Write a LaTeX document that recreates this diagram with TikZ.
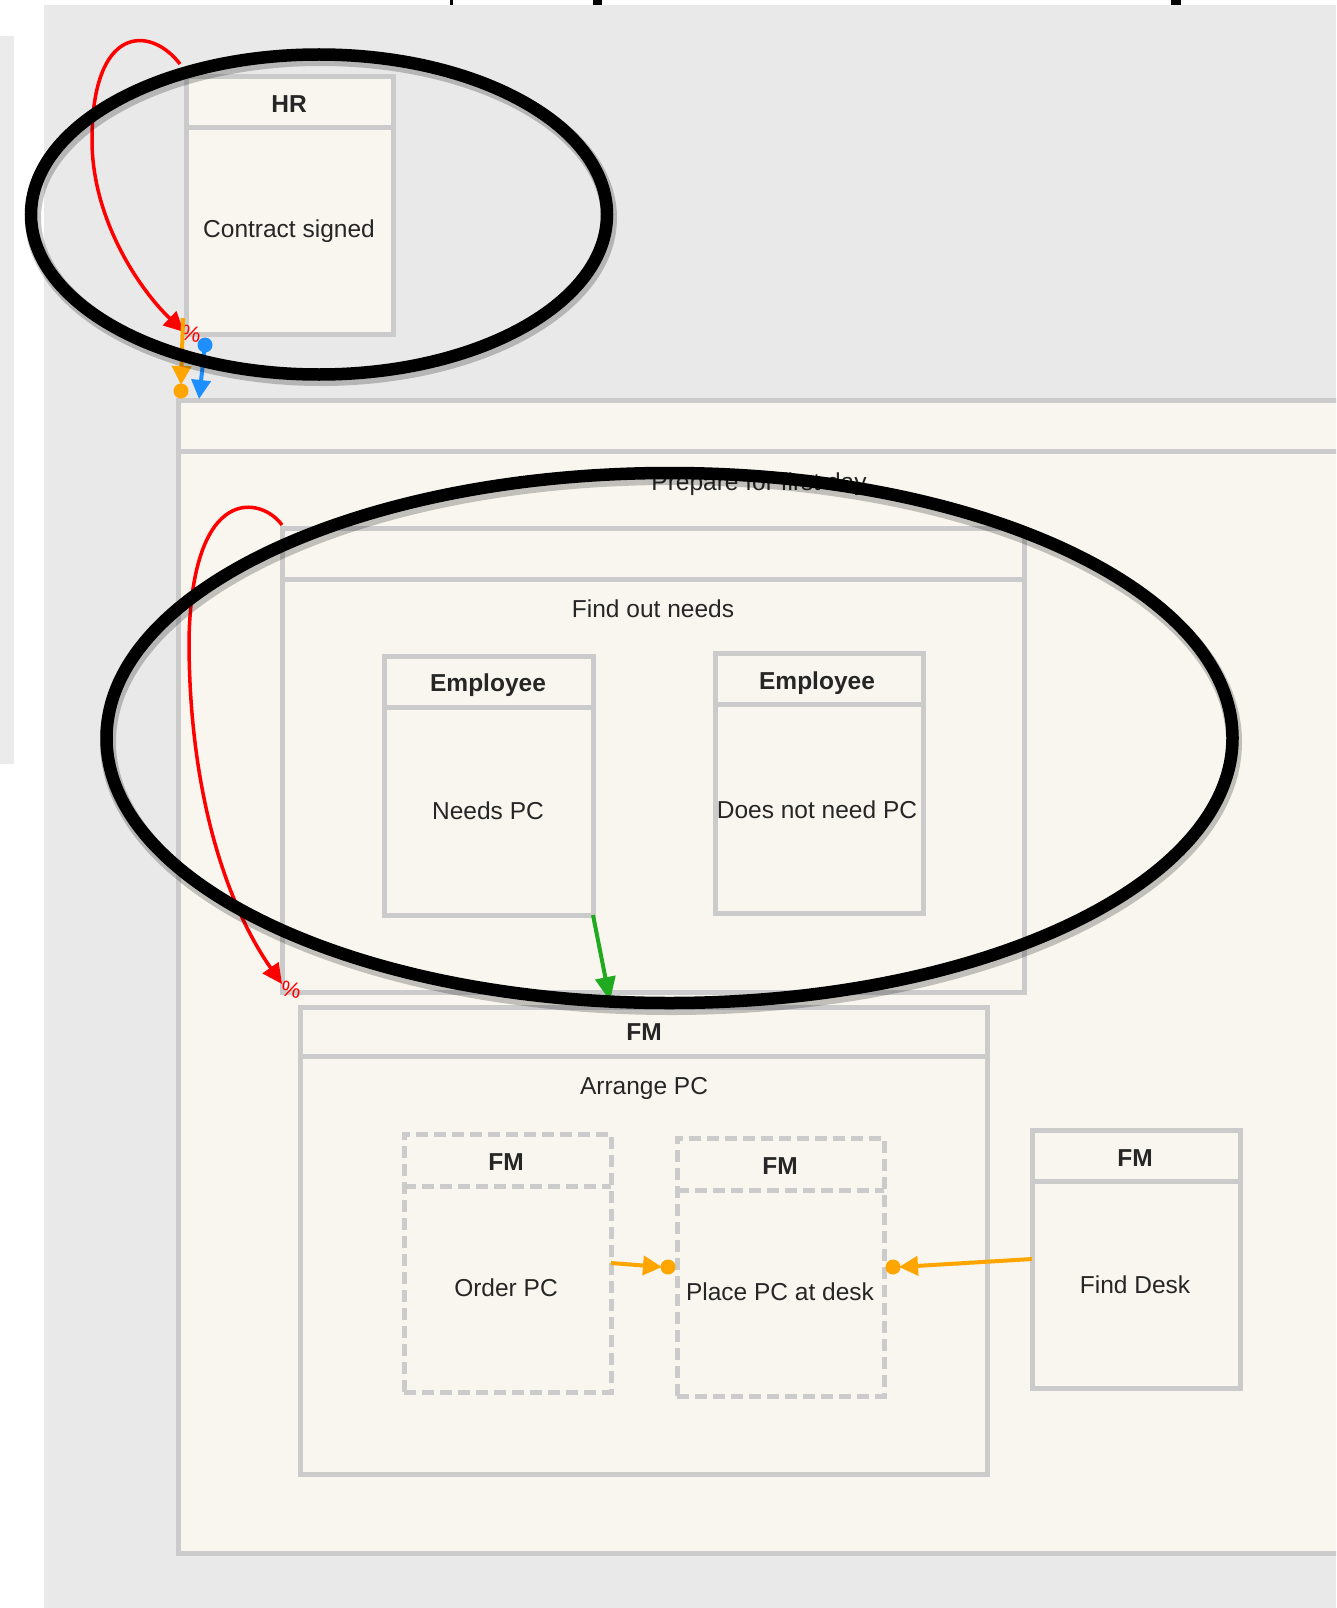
\documentclass[tikz,border=0pt]{standalone}
\usepackage{fontspec}
\setmainfont{Liberation Sans}
\usetikzlibrary{arrows.meta}
\definecolor{bggray}{HTML}{E9E9E9}
\definecolor{panelgray}{HTML}{EBEBEB}
\definecolor{cream}{HTML}{F8F6EE}
\definecolor{edgegray}{HTML}{CBCBCB}
\definecolor{txt}{HTML}{262626}
\definecolor{orng}{HTML}{FFA500}
\definecolor{blu}{HTML}{1E8FFF}
\definecolor{grn}{HTML}{1FAA1F}
\begin{document}
\begin{tikzpicture}[x=1pt,y=-1pt,
  lane/.style={draw=edgegray, line width=5pt, fill=cream, rectangle, anchor=north west, inner sep=0pt, outer sep=0pt},
  dlane/.style={lane, dash pattern=on 12pt off 6pt},
  lanediv/.style={draw=edgegray, line width=5pt},
  dlanediv/.style={lanediv, dash pattern=on 12pt off 6pt},
  hdr/.style={font=\fontsize{24.5pt}{29pt}\selectfont\bfseries, text=txt, inner sep=0pt},
  lbl/.style={font=\fontsize{24.5pt}{29pt}\selectfont, text=txt, inner sep=0pt},
  redlink/.style={draw=red, line width=3.5pt, -{Triangle[length=20pt,width=19pt]}},
  grnlink/.style={draw=grn, line width=4pt, -{Triangle[length=24pt,width=20pt]}},
  orlink/.style={draw=orng, line width=4pt, -{Triangle[length=19pt,width=19pt]}},
  blulink/.style={draw=blu, line width=4pt, -{Triangle[length=19pt,width=19pt]}},
  pct/.style={font=\fontsize{22pt}{24pt}\selectfont, text=red, inner sep=0pt},
  hilite/.style={draw=black, line width=12.5pt},
  hshadow/.style={draw=black, opacity=0.22, line width=16pt}
]
\useasboundingbox (0,0) rectangle (1336,1608);
\clip (0,0) rectangle (1336,1608);
\fill[white] (0,0) rectangle (1336,1608);
\fill[bggray] (44,5) rectangle (1336,1608);
\fill[panelgray] (0,36) rectangle (14,764);
% cut-off fragments at the very top
\fill[black] (450,0) rectangle (453,5);
\fill[black] (593,0) rectangle (602,5);
\fill[black] (1171,0) rectangle (1181,5);

% ---- boxes ----
\node[lane, minimum width=207pt, minimum height=257pt] (hr) at (186,77) {};
\draw[lanediv] ([yshift=-51pt]hr.north west) -- ([yshift=-51pt]hr.north east);
\node[hdr] (hrH) at (289,104) {HR};
\node[lbl] (hrB) at (289,231) {Contract signed};

\node[lane, minimum width=1172pt, minimum height=1153pt] (prep) at (178,400) {};
\draw[lanediv] ([yshift=-51pt]prep.north west) -- ([yshift=-51pt]prep.north east);
\node[lbl] (prepB) at (759,484) {Prepare for first day};

\node[lane, minimum width=742pt, minimum height=464pt] (fon) at (282,528) {};
\draw[lanediv] ([yshift=-51pt]fon.north west) -- ([yshift=-51pt]fon.north east);
\node[lbl] (fonB) at (653,609) {Find out needs};

\node[lane, minimum width=209pt, minimum height=259pt] (needs) at (384,656) {};
\draw[lanediv] ([yshift=-51pt]needs.north west) -- ([yshift=-51pt]needs.north east);
\node[hdr] (needsH) at (488,685) {Employee};
\node[lbl] (needsB) at (488,811) {Needs PC};

\node[lane, minimum width=208pt, minimum height=260pt] (nopc) at (715,653) {};
\draw[lanediv] ([yshift=-51pt]nopc.north west) -- ([yshift=-51pt]nopc.north east);
\node[hdr] (nopcH) at (817,683) {Employee};
\node[lbl] (nopcB) at (817,810) {Does not need PC};

\node[lane, minimum width=687pt, minimum height=467pt] (arrange) at (300,1007) {};
\draw[lanediv] ([yshift=-49pt]arrange.north west) -- ([yshift=-49pt]arrange.north east);
\node[hdr] (arrangeH) at (644,1032) {FM};
\node[lbl] (arrangeB) at (644,1088) {Arrange PC};

\node[dlane, minimum width=207pt, minimum height=258pt] (order) at (404,1134) {};
\draw[dlanediv] ([yshift=-52pt]order.north west) -- ([yshift=-52pt]order.north east);
\node[hdr] (orderH) at (506,1162) {FM};
\node[lbl] (orderB) at (506,1288) {Order PC};

\node[dlane, minimum width=207pt, minimum height=258pt] (place) at (677,1138) {};
\draw[dlanediv] ([yshift=-52pt]place.north west) -- ([yshift=-52pt]place.north east);
\node[hdr] (placeH) at (780,1166) {FM};
\node[lbl] (placeB) at (780,1292) {Place PC at desk};

\node[lane, minimum width=208pt, minimum height=258pt] (desk) at (1032,1130) {};
\draw[lanediv] ([yshift=-51pt]desk.north west) -- ([yshift=-51pt]desk.north east);
\node[hdr] (deskH) at (1135,1158) {FM};
\node[lbl] (deskB) at (1135,1285) {Find Desk};

% ---- connectors ----
% red self loop on HR
\draw[redlink] ([xshift=-6pt,yshift=13pt]hr.north west) .. controls (150,25) and (92,25) .. (92,140)
  .. controls (92,220) and (140,290) .. ([xshift=-2pt,yshift=2pt]hr.south west);
\node[pct, rotate=-10] (pct1) at (191,334) {\%};

% orange HR -> prepare
\coordinate (o1s) at ([xshift=-3pt,yshift=16pt]hr.south west);
\coordinate (o1c) at ([xshift=3pt,yshift=9pt]prep.north west);
\draw[orlink] (o1s) -- ([yshift=6pt]o1c);
\fill[orng] (o1c) circle (7.5pt);

% blue HR -> prepare
\coordinate (b1s) at ([xshift=19pt,yshift=-11pt]hr.south west);
\fill[blu] (b1s) circle (7.5pt);
\draw[blulink] (b1s) -- ([xshift=21pt,yshift=1pt]prep.north west);

% red self loop on Find out needs
\draw[redlink] ([yshift=3pt]fon.north west) .. controls (262,497) and (192,482) .. (189,640)
  .. controls (189,800) and (230,910) .. ([xshift=0pt,yshift=8pt]fon.south west);
\node[pct, rotate=-10] (pct2) at (291,990) {\%};

% green Needs PC -> Arrange PC
\draw[grnlink] (needs.south east) -- ([xshift=310pt,yshift=6pt]arrange.north west);

% orange Order PC -> Place PC
\coordinate (o2c) at ([xshift=-9pt]place.west);
\draw[orlink] (order.east) -- ([xshift=-6pt]o2c);
\fill[orng] (o2c) circle (7.5pt);

% orange Find Desk -> Place PC
\coordinate (o3c) at ([xshift=9pt]place.east);
\draw[orlink] (desk.west) -- ([xshift=6pt]o3c);
\fill[orng] (o3c) circle (7.5pt);

% ---- highlight ellipses ----
\draw[hshadow] (321,218) ellipse [x radius=288pt, y radius=160pt];
\draw[hilite] (319,214.5) ellipse [x radius=288pt, y radius=160pt];
\draw[hshadow] (671,742) ellipse [x radius=563pt, y radius=265pt];
\draw[hilite] (669.5,738) ellipse [x radius=563pt, y radius=265pt];
\end{tikzpicture}
\end{document}
